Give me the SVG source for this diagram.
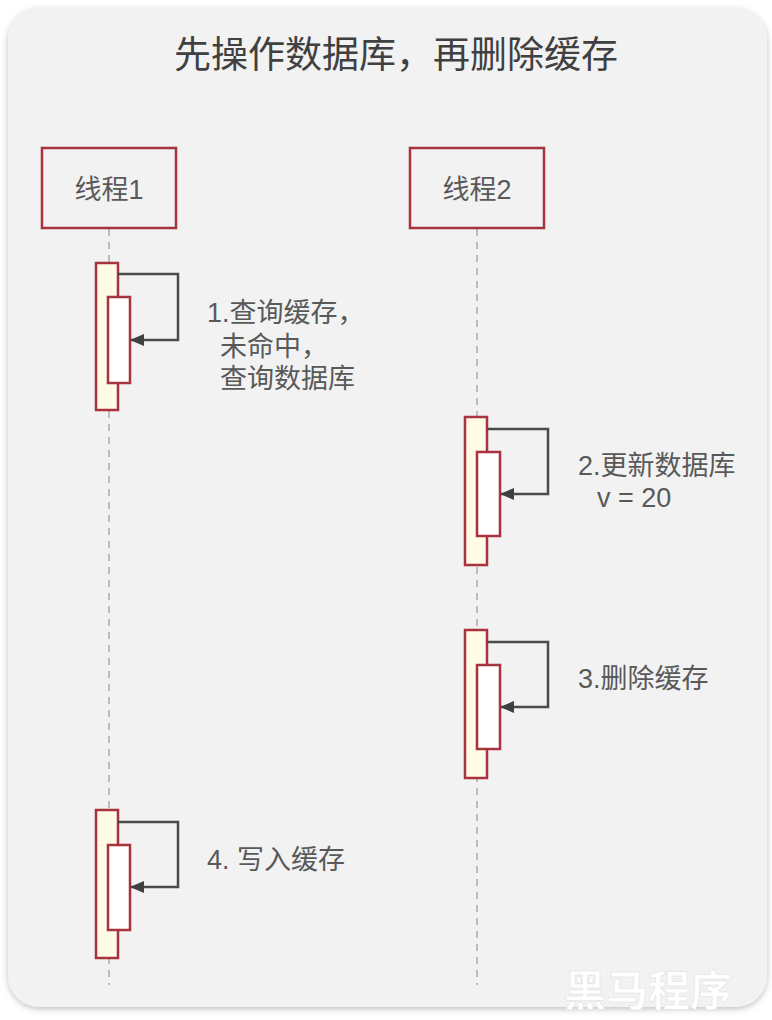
<svg xmlns="http://www.w3.org/2000/svg" width="772" height="1020" viewBox="0 0 772 1020">
<defs>
<filter id="sh" x="-5%" y="-5%" width="110%" height="110%"><feDropShadow dx="0" dy="2" stdDeviation="3" flood-color="#000" flood-opacity="0.25"/></filter>
<marker id="ah" markerWidth="14" markerHeight="12" refX="13" refY="6" orient="auto" markerUnits="userSpaceOnUse"><path d="M0,0 L14,6 L0,12 Z" fill="#404040"/></marker>
</defs>
<style>
.thr{fill:#f2f2f2;stroke:#a8333e;stroke-width:2.5}
.outer{fill:#fffbe6;stroke:#a8333e;stroke-width:2.5}
.inner{fill:#ffffff;stroke:#a8333e;stroke-width:2.5}
.life{stroke:#bdbdbd;stroke-width:2;stroke-dasharray:7 6;fill:none}
.msg{fill:none;stroke:#4a4a4a;stroke-width:2.5}
.lbl{font-family:"Liberation Sans","Noto Sans CJK SC",sans-serif;font-size:27px;fill:#595959}
.tt{font-family:"Liberation Sans","Noto Sans CJK SC",sans-serif;font-size:27px;fill:#595959;text-anchor:middle}
</style>
<rect width="772" height="1020" fill="#ffffff"/>
<rect x="8" y="8" width="759" height="999" rx="32" fill="#f2f2f2" filter="url(#sh)"/>
<text x="396" y="68" font-family="'Noto Sans CJK SC',sans-serif" font-size="37" fill="#404040" text-anchor="middle">先操作数据库，再删除缓存</text>
<g id="lifelines">
<line class="life" x1="109" y1="229" x2="109" y2="985"/>
<line class="life" x1="477" y1="229" x2="477" y2="985"/>
</g>
<g id="thread1"><rect class="thr" x="42" y="148" width="134" height="80"/><text class="tt" x="109" y="199">线程1</text></g>
<g id="thread2"><rect class="thr" x="410" y="148" width="134" height="80"/><text class="tt" x="477" y="199">线程2</text></g>
<g id="act1"><rect class="outer" x="96" y="263" width="22" height="147"/><rect class="inner" x="108" y="297" width="22" height="86"/></g>
<g id="act2"><rect class="outer" x="465" y="417" width="22" height="148"/><rect class="inner" x="477" y="452" width="23" height="84"/></g>
<g id="act3"><rect class="outer" x="465" y="630" width="22" height="148"/><rect class="inner" x="477" y="665" width="23" height="84"/></g>
<g id="act4"><rect class="outer" x="96" y="810" width="22" height="148"/><rect class="inner" x="108" y="845" width="22" height="85"/></g>
<g id="connectors">
<polyline class="msg" points="118,274 178,274 178,340 131,340" marker-end="url(#ah)"/>
<polyline class="msg" points="487,429 548,429 548,494 501,494" marker-end="url(#ah)"/>
<polyline class="msg" points="487,642 548,642 548,707 501,707" marker-end="url(#ah)"/>
<polyline class="msg" points="118,822 178,822 178,887 131,887" marker-end="url(#ah)"/>
</g>
<g id="label1"><text class="lbl" x="207" y="322">1.查询缓存，</text><text class="lbl" x="220" y="356">未命中，</text><text class="lbl" x="220" y="388">查询数据库</text></g>
<g id="label2"><text class="lbl" x="578" y="475">2.更新数据库</text><text class="lbl" x="597" y="507">v = 20</text></g>
<g id="label3"><text class="lbl" x="578" y="688">3.删除缓存</text></g>
<g id="label4"><text class="lbl" x="207" y="869">4. 写入缓存</text></g>
<text x="564" y="1006" font-family="'Noto Sans CJK SC',sans-serif" font-weight="bold" font-size="42" fill="#ffffff" stroke="#e0e0e0" stroke-width="0.5">黑马程序</text>
</svg>
